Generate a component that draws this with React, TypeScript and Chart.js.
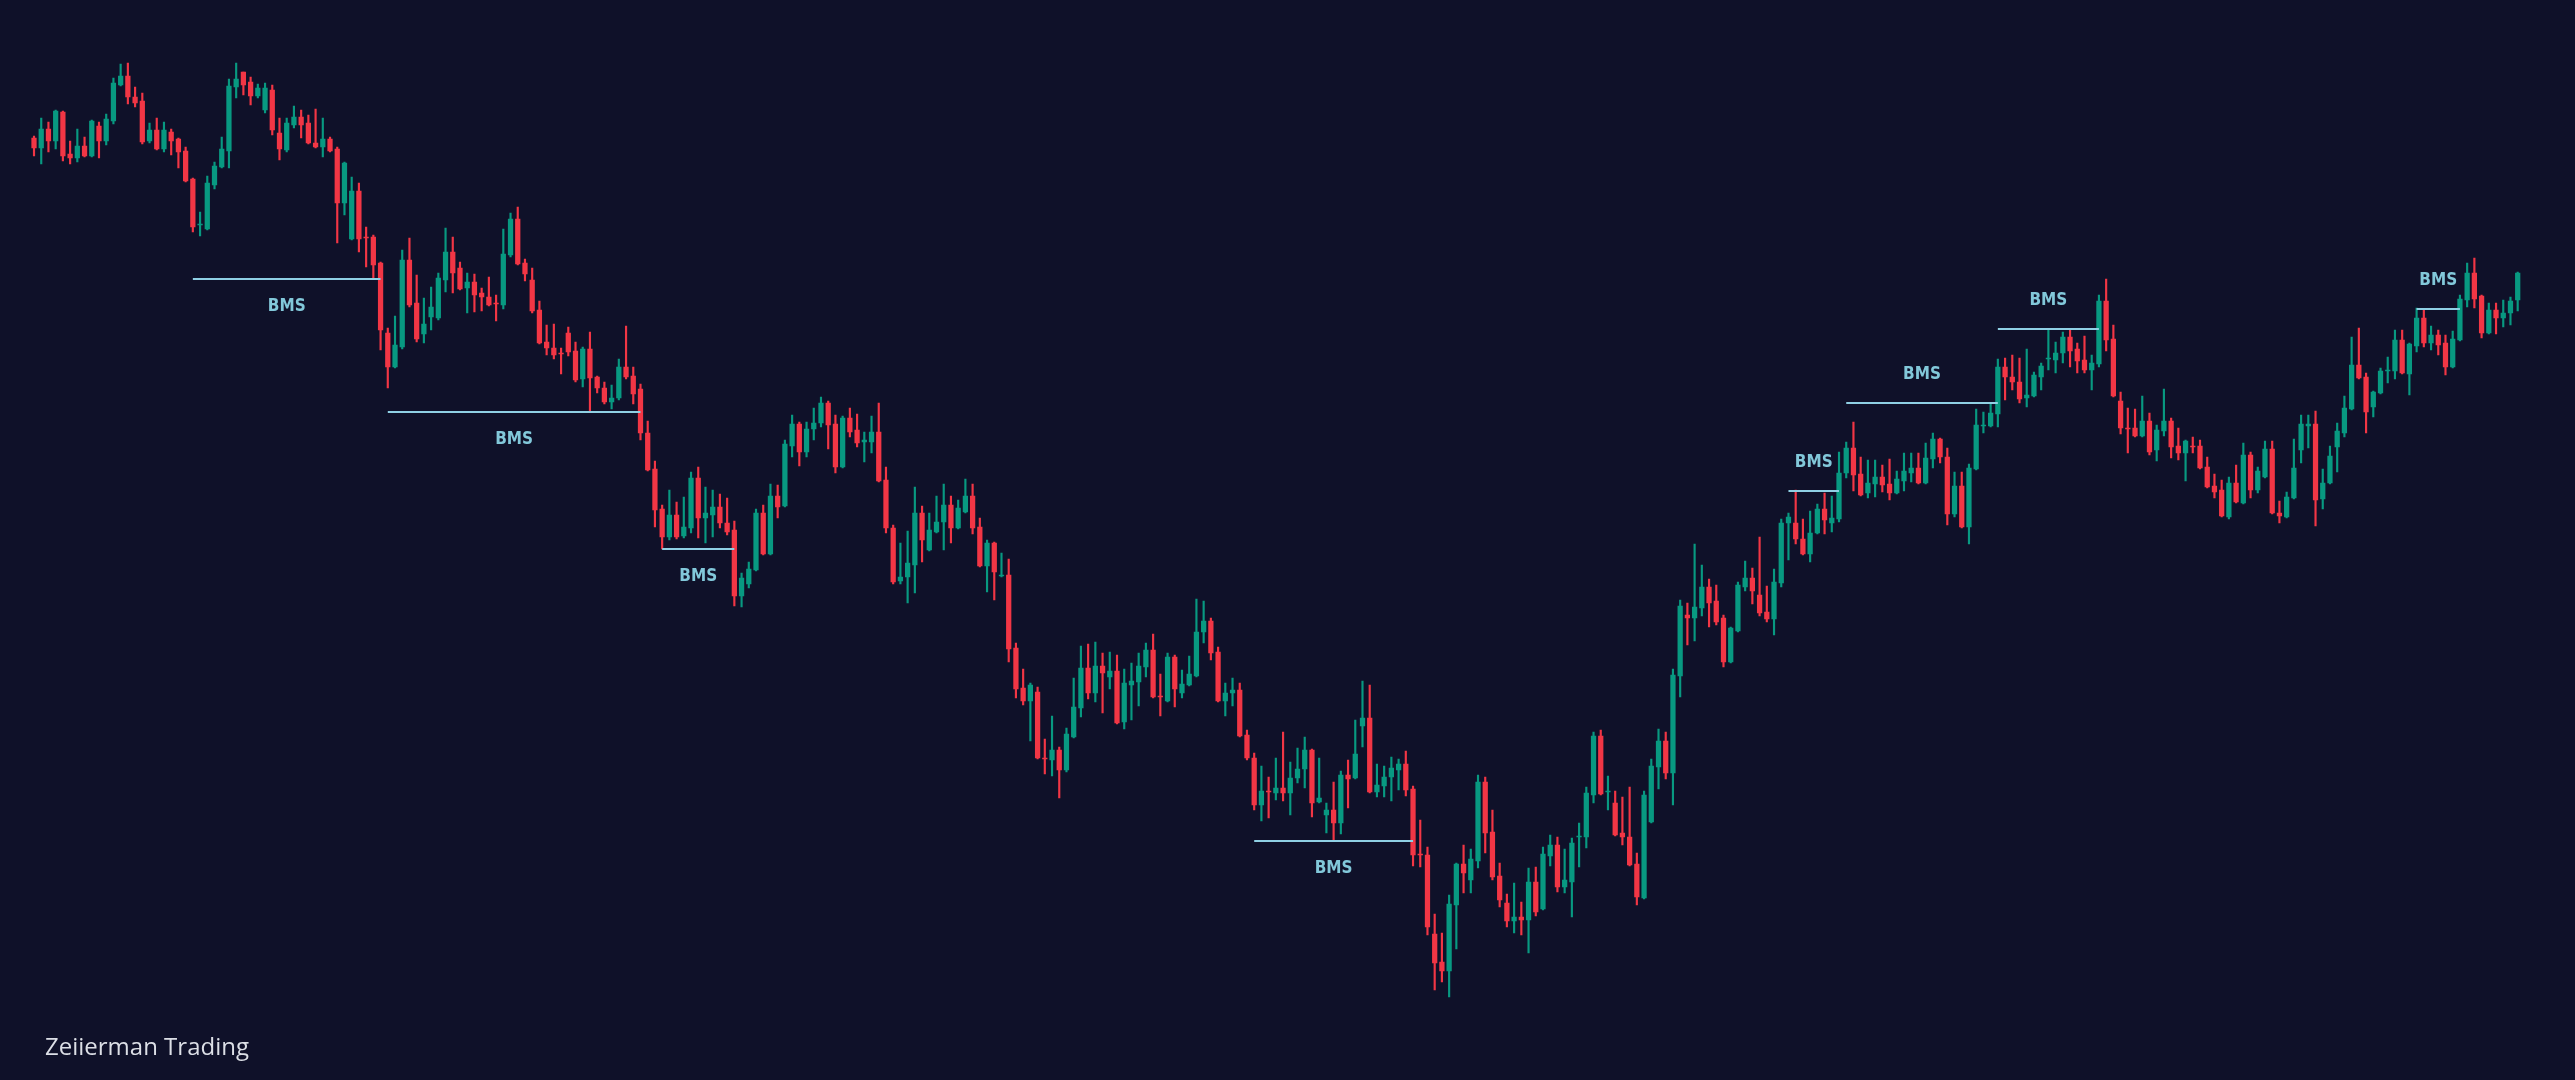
import React, { useEffect, useRef } from "react";
import { Chart, registerables } from "chart.js";

Chart.register(...registerables);

// OHLC values (price units), one entry per candle
const opens = [
  942, 932, 951, 939, 968, 926, 922, 934, 924, 954, 939, 959, 995, 1004, 983, 979, 939, 950, 931, 948,
  941, 929, 901, 855, 851, 895, 913, 929, 993, 1008, 998, 984, 970, 990, 947, 930, 955, 963, 957, 937,
  933, 941, 931, 877, 841, 889, 843, 843, 817, 747, 713, 733, 820, 777, 746, 763, 762, 800, 828, 812,
  792, 798, 787, 783, 777, 775, 825, 861, 817, 800, 770, 738, 732, 727, 747, 729, 701, 731, 703, 692,
  678, 682, 713, 704, 691, 647, 611, 571, 543, 565, 544, 552, 602, 562, 565, 573, 557, 550, 484, 496,
  510, 567, 526, 584, 574, 634, 656, 628, 651, 657, 677, 656, 613, 662, 650, 638, 638, 648, 600, 552,
  499, 503, 515, 567, 530, 548, 558, 575, 552, 568, 584, 553, 514, 537, 504, 505, 432, 392, 379, 388,
  322, 320, 330, 310, 343, 372, 412, 387, 414, 403, 409, 358, 395, 398, 413, 430, 384, 379, 423, 387,
  395, 404, 448, 459, 428, 379, 387, 390, 345, 322, 275, 289, 287, 292, 287, 302, 311, 330, 278, 265,
  270, 257, 305, 302, 354, 362, 288, 294, 303, 310, 316, 291, 226, 225, 146, 118, 109, 175, 216, 200,
  219, 298, 248, 204, 177, 159, 163, 160, 198, 171, 224, 235, 193, 198, 243, 243, 285, 344, 288, 277,
  247, 243, 216, 182, 258, 313, 339, 307, 404, 465, 462, 472, 493, 479, 462, 418, 449, 493, 502, 485,
  468, 461, 497, 557, 557, 541, 526, 547, 571, 557, 561, 607, 632, 606, 587, 596, 603, 596, 587, 599,
  607, 612, 597, 621, 641, 623, 566, 594, 553, 611, 654, 654, 666, 713, 703, 698, 682, 684, 703, 721,
  720, 727, 743, 731, 720, 710, 716, 779, 741, 679, 652, 652, 644, 659, 630, 649, 659, 634, 627, 634,
  634, 613, 594, 590, 563, 597, 577, 625, 590, 603, 631, 567, 563, 582, 630, 654, 656, 581, 597, 633,
  647, 671, 715, 703, 673, 687, 709, 709, 740, 706, 734, 762, 737, 745, 737, 713, 740, 780, 807, 784,
  747, 770, 762, 767, 780,
];
const highs = [
  944, 962, 958, 970, 969, 939, 951, 943, 960, 958, 966, 1002, 1016, 1017, 993, 987, 957, 962, 958, 951,
  942, 933, 902, 868, 904, 918, 943, 1001, 1017, 1008, 1003, 996, 997, 995, 962, 962, 974, 970, 965, 971,
  962, 943, 933, 918, 903, 897, 853, 845, 818, 752, 764, 830, 842, 805, 782, 793, 807, 852, 843, 818,
  807, 806, 792, 803, 785, 851, 867, 873, 821, 812, 779, 755, 756, 732, 753, 738, 733, 748, 704, 698,
  695, 721, 754, 713, 696, 659, 619, 575, 590, 578, 583, 608, 613, 593, 590, 586, 582, 559, 507, 518,
  571, 575, 596, 595, 640, 665, 658, 658, 672, 683, 679, 665, 664, 672, 666, 648, 664, 677, 613, 555,
  537, 549, 593, 574, 567, 584, 596, 584, 580, 601, 596, 562, 540, 538, 527, 521, 437, 411, 397, 393,
  341, 364, 333, 352, 402, 434, 436, 438, 427, 428, 425, 411, 417, 427, 437, 446, 406, 427, 425, 410,
  424, 481, 479, 462, 433, 397, 402, 397, 350, 327, 314, 303, 322, 348, 318, 332, 343, 331, 322, 277,
  298, 309, 320, 360, 399, 395, 316, 314, 323, 321, 329, 294, 260, 233, 166, 147, 185, 217, 235, 231,
  305, 303, 270, 217, 186, 197, 178, 212, 213, 233, 245, 243, 231, 242, 257, 293, 348, 350, 304, 289,
  283, 293, 227, 289, 321, 351, 348, 411, 480, 477, 536, 515, 501, 495, 465, 453, 498, 519, 512, 543,
  494, 511, 561, 567, 590, 561, 569, 576, 587, 584, 628, 638, 658, 623, 620, 620, 615, 621, 609, 627,
  627, 627, 637, 647, 642, 632, 608, 608, 616, 671, 668, 676, 721, 722, 725, 722, 731, 708, 717, 750,
  738, 748, 751, 737, 744, 725, 785, 801, 755, 688, 672, 671, 684, 667, 655, 691, 662, 652, 640, 643,
  640, 623, 606, 600, 603, 615, 637, 628, 613, 639, 639, 579, 588, 641, 665, 665, 669, 611, 634, 657,
  684, 743, 752, 707, 689, 712, 723, 750, 750, 737, 772, 771, 754, 750, 745, 749, 785, 817, 822, 785,
  777, 777, 780, 783, 808,
];
const lows = [
  924, 916, 928, 931, 919, 916, 918, 923, 923, 922, 935, 956, 994, 976, 973, 936, 937, 930, 928, 925,
  912, 898, 848, 844, 850, 891, 912, 912, 982, 985, 975, 982, 967, 945, 920, 928, 952, 942, 936, 932,
  923, 928, 837, 865, 840, 828, 813, 802, 730, 692, 712, 731, 773, 738, 737, 750, 760, 788, 787, 790,
  767, 768, 769, 774, 759, 771, 823, 815, 799, 767, 736, 725, 721, 706, 724, 698, 693, 668, 687, 676,
  671, 680, 701, 676, 640, 609, 553, 531, 540, 541, 542, 547, 542, 537, 543, 552, 545, 474, 473, 492,
  509, 525, 525, 562, 573, 623, 614, 623, 640, 653, 631, 607, 612, 643, 633, 618, 627, 598, 547, 496,
  496, 477, 487, 518, 529, 547, 530, 537, 551, 567, 546, 513, 488, 480, 503, 418, 382, 375, 339, 321,
  306, 304, 282, 308, 342, 363, 381, 378, 367, 391, 356, 351, 360, 374, 403, 382, 364, 378, 373, 382,
  394, 403, 437, 420, 378, 364, 374, 343, 320, 270, 259, 262, 280, 279, 265, 297, 292, 263, 277, 247,
  239, 246, 272, 301, 333, 287, 283, 283, 279, 290, 284, 214, 213, 145, 90, 98, 83, 131, 187, 187,
  212, 227, 200, 173, 153, 147, 145, 127, 164, 170, 214, 188, 187, 163, 213, 232, 277, 285, 270, 244,
  235, 214, 175, 181, 257, 291, 301, 275, 383, 435, 439, 464, 453, 455, 413, 417, 448, 489, 476, 464,
  458, 445, 493, 520, 536, 525, 518, 546, 546, 548, 558, 602, 589, 584, 582, 583, 588, 580, 586, 589,
  598, 596, 596, 612, 617, 555, 563, 552, 536, 610, 647, 653, 653, 680, 690, 677, 673, 683, 690, 710,
  707, 717, 713, 707, 707, 690, 713, 729, 683, 646, 627, 643, 643, 625, 619, 644, 622, 620, 599, 627,
  611, 592, 582, 563, 561, 577, 576, 582, 587, 602, 566, 557, 562, 581, 617, 632, 554, 571, 596, 608,
  643, 670, 701, 647, 663, 686, 697, 701, 706, 685, 728, 733, 730, 725, 705, 712, 739, 773, 772, 742,
  746, 746, 753, 755, 769,
];
const closes = [
  932, 951, 939, 969, 924, 922, 934, 924, 959, 939, 961, 997, 1004, 983, 977, 938, 950, 931, 950, 939,
  928, 899, 853, 856, 897, 914, 931, 994, 1001, 995, 984, 992, 992, 950, 931, 957, 963, 955, 937, 933,
  941, 929, 877, 917, 889, 841, 842, 815, 750, 713, 735, 820, 775, 741, 756, 773, 802, 828, 807, 791,
  798, 785, 783, 775, 776, 826, 861, 816, 806, 769, 737, 732, 725, 726, 728, 700, 731, 702, 692, 678,
  682, 713, 703, 686, 647, 610, 570, 543, 565, 543, 553, 602, 562, 567, 573, 557, 548, 484, 502, 511,
  567, 526, 584, 573, 636, 656, 628, 651, 657, 677, 655, 613, 662, 648, 637, 640, 648, 599, 552, 498,
  503, 517, 567, 540, 550, 558, 575, 552, 572, 584, 552, 514, 537, 508, 505, 431, 391, 379, 395, 322,
  321, 330, 310, 346, 373, 412, 387, 414, 407, 409, 357, 397, 399, 414, 430, 383, 383, 423, 391, 396,
  406, 448, 459, 427, 379, 387, 390, 344, 322, 275, 289, 288, 292, 287, 302, 311, 330, 277, 282, 270,
  257, 305, 301, 326, 362, 288, 295, 303, 312, 316, 290, 225, 225, 153, 117, 109, 176, 216, 207, 221,
  298, 247, 203, 180, 159, 163, 160, 198, 168, 226, 235, 193, 200, 237, 244, 287, 344, 286, 289, 245,
  243, 215, 183, 285, 314, 339, 307, 405, 474, 462, 473, 493, 477, 458, 418, 452, 495, 502, 489, 467,
  461, 498, 557, 563, 541, 526, 547, 571, 560, 562, 607, 632, 605, 585, 597, 603, 595, 587, 601, 609,
  612, 597, 622, 641, 623, 566, 594, 553, 612, 655, 655, 667, 713, 703, 698, 681, 685, 705, 714, 722,
  727, 743, 729, 719, 710, 717, 779, 740, 684, 652, 651, 644, 659, 628, 650, 659, 633, 627, 639, 633,
  612, 593, 588, 564, 597, 578, 625, 590, 609, 631, 567, 564, 583, 612, 656, 656, 580, 597, 624, 649,
  672, 715, 702, 668, 688, 709, 710, 740, 707, 736, 762, 737, 745, 735, 713, 741, 781, 807, 781, 747,
  770, 762, 767, 779, 807,
];

// Candle categories (bar numbers)
const categories = opens.map((_, i) => String(i + 1));

// Break of market structure (BMS) segments
const bmsStart = [22, 49, 87, 169, 243, 251, 272, 330];
const bmsEnd = [48, 84, 97, 191, 250, 272, 286, 336];
const bmsLevel = [801, 668, 531, 239, 589, 677, 751, 771];
const bmsSide = ["below", "below", "below", "below", "above", "above", "above", "above"];
const bmsText = "BMS";

const watermark = "Zeiierman Trading";

const BG = "#0f1129";
const UP = "#089981";
const DOWN = "#f23645";
const LINE = "#8fd0e4";
const LABEL = "#82c8da";

export default function App() {
  const ref = useRef<HTMLCanvasElement | null>(null);

  useEffect(() => {
    document.body.style.margin = "0";
    document.body.style.background = BG;
    const canvas = ref.current;
    if (!canvas) return;

    const colors = opens.map((o, i) => (closes[i] >= o ? UP : DOWN));

    const bmsDatasets = bmsLevel.map((lv, k) => ({
      type: "line" as const,
      label: "BMS " + (k + 1),
      data: categories.map((_, i) => (i >= bmsStart[k] && i <= bmsEnd[k] ? lv : null)),
      borderColor: LINE,
      borderWidth: 2,
      pointRadius: 0,
      pointHoverRadius: 0,
      fill: false,
      spanGaps: false,
      order: 0,
      tension: 0,
    }));

    const labelPlugin = {
      id: "bmsLabels",
      afterDatasetsDraw(chart: any) {
        const { ctx } = chart;
        const x = chart.scales.x;
        const y = chart.scales.y;
        ctx.save();
        ctx.font = 'bold 17px "Liberation Sans Narrow", "DejaVu Sans Condensed", sans-serif';
        ctx.fillStyle = LABEL;
        ctx.textAlign = "center";
        ctx.textBaseline = "middle";
        bmsLevel.forEach((lv, k) => {
          const xm = (x.getPixelForValue(bmsStart[k]) + x.getPixelForValue(bmsEnd[k])) / 2;
          const yy = y.getPixelForValue(lv) + (bmsSide[k] === "below" ? 27.5 : -28.5);
          ctx.fillText(bmsText, xm, yy);
        });
        ctx.restore();
      },
    };

    const chart = new Chart(canvas, {
      type: "bar",
      data: {
        labels: categories,
        datasets: [
          {
            label: "wick",
            data: lows.map((l, i) => [l, highs[i]]),
            backgroundColor: colors,
            borderWidth: 0,
            barThickness: 1.5,
            grouped: false,
            order: 2,
          } as any,
          {
            label: "body",
            data: opens.map((o, i) => [o, closes[i]]),
            backgroundColor: colors,
            borderWidth: 0,
            barThickness: 4.6,
            grouped: false,
            order: 1,
          } as any,
          ...bmsDatasets,
        ],
      },
      options: {
        responsive: false,
        maintainAspectRatio: false,
        animation: false,
        devicePixelRatio: 1,
        layout: { padding: { left: 30.4, right: 53.7, top: 0, bottom: 0 } },
        plugins: {
          legend: { display: false },
          tooltip: { enabled: false },
        },
        events: [],
        scales: {
          x: { display: false, offset: true, grid: { display: false } },
          y: { display: false, min: 0, max: 1080, grid: { display: false } },
        },
      },
      plugins: [labelPlugin],
    });

    return () => chart.destroy();
  }, []);

  return (
    <div
      style={{
        position: "fixed",
        left: 0,
        top: 0,
        width: 2575,
        height: 1080,
        background: BG,
        overflow: "hidden",
      }}
    >
      <canvas ref={ref} width={2575} height={1080} style={{ display: "block" }} />
      <div
        style={{
          position: "absolute",
          left: 45,
          top: 1030,
          fontFamily: '"Open Sans", "Noto Sans", sans-serif',
          fontSize: 24,
          fontWeight: 500,
          lineHeight: "32px",
          color: "#dcdfe6",
          whiteSpace: "nowrap",
        }}
      >
        {watermark}
      </div>
    </div>
  );
}
